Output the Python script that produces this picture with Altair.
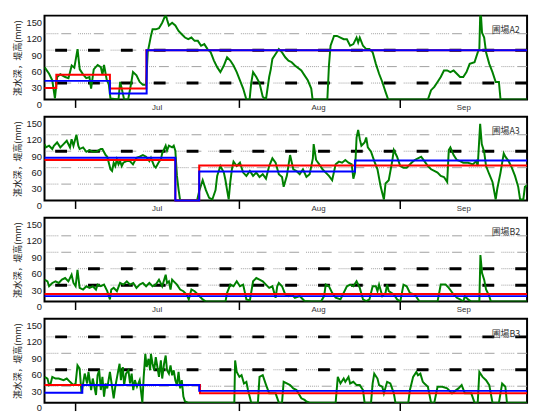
import altair as alt
import pandas as pd

# ---------------- data ----------------
X_DOMAIN = [0, 90]          # days from left edge of plot
Y_DOMAIN = [0, 153]
y_ticks = [0, 30, 60, 90, 120, 150]
grid_levels = [30, 60, 90, 120]
tick_days = [5.7, 36.2, 66.2]
month_days = [21.0, 51.1, 78.2]
month_labels = ["Jul", "Aug", "Sep"]
y_title = "湛水深，堤高(mm)"

fields = ["圃場A2", "圃場A3", "圃場B2", "圃場B3"]
levee_levels = [[30, 90], [90], [30, 60], [60, 120]]

# water depth (day, mm)
a2_depth = [(0,59),(0.85,47),(1.45,35),(1.94,2),(2.35,41),(2.95,46),(3.86,41),(4.47,39),(5.07,62),(5.56,58),
    (6.16,92),(6.57,55),(7.19,46),(7.79,39),(8.38,41),(8.69,20),(9.18,55),(9.91,63),(10.5,59),(10.81,45),
    (11.1,63),(11.6,36),(12.0,27),(12.3,2),(13.8,0),(14.1,32),(14.4,20),(14.85,0),(15.6,0),(16.2,32),
    (16.5,50),(17.15,44),(17.75,32),(18.35,27),(18.95,27),(19.25,86),(19.85,116),(20.15,128),(20.75,128),(21.35,130),
    (21.95,140),(22.6,155),(22.85,146),(23.2,135),(23.8,140),(24.4,135),(25.0,125),(25.6,119),(26.2,113),(26.8,110),
    (27.4,113),(28.0,107),(28.6,107),(29.2,98),(29.8,101),(30.4,92),(31.0,86),(31.6,71),(32.2,59),(32.8,50),
    (33.45,62),(34.05,77),(34.65,71),(35.25,62),(35.85,50),(36.45,35),(37.05,20),(37.65,0),(38.25,0),(38.55,30),
    (38.9,50),(39.5,41),(40.1,30),(40.7,5),(41.3,0),(41.9,41),(42.2,55),(42.5,74),(43.1,83),(43.7,92),
    (44.3,86),(44.9,77),(45.5,71),(46.1,68),(46.7,62),(47.9,53),(48.5,44),(49.1,35),(49.75,20),(50.0,0),
    (52.75,0),(53.05,62),(53.35,98),(54.0,116),(54.55,116),(55.2,113),(55.8,110),(56.4,110),(57.0,98),(57.6,101),
    (58.2,113),(58.5,104),(58.8,113),(59.4,98),(60.0,92),(60.6,92),(61.2,86),(61.8,65),(62.4,47),(63.0,32),
    (63.6,14),(64.1,0),(71.5,0),(72.1,17),(72.7,23),(73.3,32),(73.9,41),(74.5,53),(75.1,53),(75.7,50),
    (76.3,53),(76.9,47),(77.5,41),(78.1,41),(78.7,50),(79.3,65),(80.2,68),(80.8,86),(81.1,92),(81.3,170),
    (81.6,122),(82.0,113),(82.35,86),(82.95,65),(83.55,50),(84.15,32),(84.75,32),(85.05,0),(90,0)]

a3_depth = [(0,103),(0.25,97),(0.85,100),(1.45,94),(1.75,100),(2.35,106),(2.95,97),(3.55,103),(4.15,109),(4.75,97),
    (5.05,112),(5.4,100),(5.95,120),(6.3,100),(6.55,94),(7.2,97),(7.8,89),(8.4,92),(9.0,89),(9.6,89),
    (10.5,94),(10.8,94),(11.4,83),(11.7,80),(12.3,57),(12.6,54),(12.9,69),(13.2,63),(13.5,75),(13.8,66),
    (14.1,72),(14.4,63),(14.7,69),(15.3,72),(15.9,72),(16.5,66),(17.15,78),(17.75,80),(18.35,83),(18.95,80),
    (19.55,72),(19.85,78),(20.45,63),(20.75,60),(21.25,69),(21.7,75),(21.95,86),(22.6,100),(22.85,91),(23.2,100),
    (23.8,97),(24.1,100),(24.4,91),(24.7,45),(25.0,20),(25.3,0),(28.45,0),(28.9,19),(29.5,37),(30.1,19),
    (30.7,5),(31.3,2),(31.9,19),(32.2,45),(32.8,63),(33.45,51),(33.75,37),(34.05,19),(34.35,2),(34.65,34),
    (34.95,57),(35.25,71),(35.85,63),(36.45,69),(37.05,51),(37.65,45),(38.3,54),(38.9,45),(39.5,51),(40.1,43),
    (40.7,48),(41.3,40),(41.9,63),(42.5,77),(43.1,69),(43.7,48),(44.3,43),(44.6,25),(45.2,45),(45.8,83),
    (46.4,57),(47.0,54),(47.6,48),(48.2,57),(48.85,43),(49.45,48),(50.05,77),(50.2,103),(50.65,74),(51.25,66),
    (51.85,57),(52.45,51),(53.05,45),(53.65,37),(54.3,66),(54.9,71),(55.5,69),(56.1,74),(56.7,69),(57.3,66),
    (57.6,40),(57.9,51),(58.2,115),(58.5,129),(58.8,112),(59.1,100),(59.7,106),(60.0,115),(60.3,97),(60.9,89),
    (61.5,72),(62.1,57),(62.7,25),(63.3,2),(63.6,31),(64.2,37),(64.85,72),(65.15,92),(65.75,80),(66.35,63),
    (66.95,60),(67.55,60),(68.45,69),(69.05,74),(69.65,77),(70.25,80),(70.85,72),(71.5,63),(72.1,57),(72.7,54),
    (73.3,51),(73.9,45),(74.5,43),(75.1,34),(75.4,92),(75.7,97),(76.3,83),(76.9,74),(77.5,72),(78.1,69),
    (79.0,69),(79.9,66),(80.5,72),(80.8,63),(81.25,140),(81.55,103),(82.0,89),(82.35,63),(82.95,48),(83.55,34),
    (84.15,2),(84.45,22),(85.05,51),(85.65,86),(85.95,80),(86.55,72),(87.15,60),(87.75,45),(88.35,25),(88.7,2),
    (89.3,2),(89.6,25),(90,28)]

b2_depth = [(0,40),(0.55,37),(0.85,28),(1.45,34),(2.05,37),(2.65,34),(3.25,40),(3.85,43),(4.45,37),(5.05,49),
    (5.4,34),(5.8,28),(6.15,58),(6.55,25),(7.2,22),(7.8,28),(8.4,25),(9.0,28),(9.6,22),(9.9,31),
    (10.5,28),(11.1,31),(11.7,19),(12.2,4),(12.45,22),(12.9,25),(13.5,19),(14.1,34),(14.7,31),(15.35,37),
    (15.95,31),(16.55,34),(17.15,25),(17.75,31),(18.35,34),(18.95,28),(19.55,34),(20.15,28),(20.75,31),(21.35,40),
    (21.95,28),(22.6,49),(22.85,34),(23.2,37),(23.5,22),(23.8,40),(24.1,37),(24.7,31),(25.3,22),(25.9,19),
    (26.5,13),(26.9,4),(27.4,22),(28.0,19),(28.6,13),(29.5,4),(30.1,0),(33.75,0),(34.05,16),(34.65,31),
    (35.25,28),(35.85,37),(36.45,28),(37.05,31),(37.65,4),(38.3,2),(38.9,37),(39.5,43),(40.1,40),(40.7,37),
    (41.3,31),(41.9,25),(42.5,28),(43.1,7),(43.4,28),(43.7,34),(44.3,28),(44.9,13),(45.5,10),(46.1,13),
    (46.7,7),(47.6,10),(47.9,7),(48.5,1),(49.75,0),(51.55,0),(52.15,10),(52.45,31),(53.05,28),(53.65,16),
    (54.3,7),(55.2,4),(56.4,28),(57.0,31),(57.6,28),(58.2,37),(58.8,25),(59.4,4),(60.0,1),(60.6,4),
    (61.2,28),(61.8,28),(62.1,19),(62.4,31),(63.0,10),(63.6,16),(63.9,31),(64.2,19),(65.15,13),(65.75,4),
    (66.35,0),(66.95,31),(67.55,28),(68.15,16),(69.05,13),(69.95,0),(73.3,0),(73.9,31),(74.8,31),(75.4,25),
    (76.3,13),(76.9,7),(77.5,4),(78.1,0),(78.4,10),(79.0,4),(79.6,0),(81.1,0),(81.3,85),(81.6,52),
    (82.0,40),(82.35,22),(82.95,10),(83.25,0),(90,0)]

b3_depth = [(0,47),(0.55,44),(0.85,32),(1.15,35),(1.45,47),(2.05,44),(2.65,44),(3.55,41),(4.15,44),(4.75,38),
    (5.4,32),(5.8,35),(6.15,68),(6.55,62),(6.9,17),(7.2,35),(7.5,53),(7.95,35),(8.2,56),(8.7,23),
    (9.0,44),(9.6,14),(9.9,50),(10.2,59),(10.5,23),(10.8,47),(11.1,11),(11.4,35),(11.7,26),(12.2,56),
    (12.6,29),(12.9,8),(13.2,29),(13.65,53),(14.0,71),(14.25,41),(14.6,65),(14.85,32),(15.2,53),(15.65,59),
    (15.95,35),(16.25,53),(16.55,23),(16.85,41),(17.25,29),(17.75,41),(18.25,0),(18.5,47),(18.8,89),(19.05,65),
    (19.4,80),(19.7,59),(19.85,89),(20.15,71),(20.45,59),(20.75,83),(21.05,65),(21.35,47),(21.7,77),(21.95,44),
    (22.3,71),(22.6,86),(22.85,59),(23.2,53),(23.5,68),(23.8,50),(24.1,59),(24.4,41),(24.7,32),(25.0,56),
    (25.3,26),(25.6,41),(25.9,11),(26.2,2),(26.8,0),(35.4,0),(35.55,77),(35.85,56),(36.35,47),(36.75,50),
    (37.2,35),(37.65,38),(37.95,23),(38.55,0),(39.8,0),(40.1,47),(40.7,50),(41.3,33),(41.9,17),(43.1,17),
    (43.7,0),(44.3,0),(44.6,38),(45.2,35),(45.8,32),(46.4,26),(47.0,23),(47.9,8),(48.5,5),(48.85,2),
    (49.45,0),(54.3,0),(54.7,47),(55.2,35),(55.8,44),(56.1,38),(56.7,47),(57.0,35),(57.6,38),(58.2,32),
    (58.8,32),(59.4,23),(59.7,0),(60.9,0),(61.2,35),(61.5,53),(62.1,44),(62.4,32),(63.0,29),(63.3,17),
    (63.9,38),(64.5,35),(65.15,17),(65.45,0),(67.85,0),(68.15,23),(68.45,35),(68.75,47),(69.35,56),(69.65,50),
    (70.1,53),(70.55,38),(70.85,35),(71.5,29),(72.1,0),(72.7,0),(73.3,29),(74.2,29),(75.1,26),(76.0,17),
    (77.2,26),(77.8,32),(78.4,17),(79.6,17),(80.2,0),(80.8,0),(81.1,56),(81.7,47),(82.35,41),(82.95,32),
    (83.55,0),(84.75,0),(85.35,35),(85.95,29),(86.25,0),(90,0)]

# step lines (start day, mm) -- red and blue
a2_red = [(0,21),(2.2,45),(12.2,20),(19.0,90),(90,90)]
a2_blue = [(0,34),(12.2,11),(19.05,90),(90,90)]
a3_red = [(0,74),(24.4,0),(28.85,64),(90,64)]
a3_blue = [(0,78),(24.4,0),(28.85,53),(57.9,73),(90,73)]
b2_red = [(0,14),(90,14)]
b2_blue = [(0,10),(90,10)]
b3_red = [(0,32),(29.0,17),(90,17)]
b3_blue = [(0,18),(7.05,32),(28.85,21.5),(90,21.5)]

depths = [a2_depth, a3_depth, b2_depth, b3_depth]
reds = [a2_red, a3_red, b2_red, b3_red]
blues = [a2_blue, a3_blue, b2_blue, b3_blue]

# ---------------- chart ----------------
W, H = 489, 85
CJK = "Noto Sans CJK JP"
LAT = "Liberation Sans"

XS = alt.Scale(domain=X_DOMAIN, nice=False, zero=False)
YS = alt.Scale(domain=Y_DOMAIN, nice=False, zero=False)
XAXIS = alt.Axis(values=tick_days, labels=False, ticks=True, tickSize=8, tickWidth=1.5,
                 tickColor="black", domain=False, grid=False, title=None)
YAXIS = alt.Axis(values=y_ticks, grid=False, ticks=False, domain=False,
                 labelOffset=5, labelPadding=3, labelFontSize=9.5, labelFont=LAT,
                 labelColor="#222222", title=y_title, titleFont=CJK, titleFontSize=9,
                 titleFontWeight="normal", titleColor="#222222", titlePadding=3)


def xe():
    return alt.X("day:Q", scale=XS, axis=XAXIS, title=None)


def ye():
    return alt.Y("v:Q", scale=YS, axis=YAXIS, title=y_title)


def panel(name, depth, red, blue, levees, show_months=True):
    grid = alt.Chart(pd.DataFrame({"v": grid_levels})).mark_rule(
        color="#a0a0a0", strokeWidth=1,
        strokeDash=[10, 3, 1, 1, 1, 1, 1, 1, 1, 1, 1, 1, 1, 1, 1, 7]
    ).encode(y=ye())

    lev = alt.Chart(pd.DataFrame({"v": levees})).mark_rule(
        color="black", strokeWidth=3, strokeDash=[12, 21.3]
    ).encode(y=ye())

    g = pd.DataFrame(depth, columns=["day", "v"])
    green = alt.Chart(g).mark_line(color="#008000", strokeWidth=2, clip=True).encode(x=xe(), y=ye())

    r = pd.DataFrame(red, columns=["day", "v"])
    red_l = alt.Chart(r).mark_line(color="#ff0000", strokeWidth=2, interpolate="step-after").encode(
        x=xe(), y=ye())
    b = pd.DataFrame(blue, columns=["day", "v"])
    blue_l = alt.Chart(b).mark_line(color="#0000ff", strokeWidth=2, interpolate="step-after").encode(
        x=xe(), y=ye())

    lab = alt.Chart(pd.DataFrame({"day": [83.4], "v": [126], "t": [name]})).mark_text(
        align="left", baseline="middle", font=CJK, fontSize=9, color="#333333"
    ).encode(x=xe(), y=ye(), text="t:N")

    layers = [grid, lev, green, red_l, blue_l, lab]
    if show_months:
        months = alt.Chart(pd.DataFrame({"day": month_days, "t": month_labels})).mark_text(
            align="center", baseline="middle", font=LAT, fontSize=8, color="#333333"
        ).encode(x=xe(), y=alt.value(H + 9), text="t:N")
        layers.append(months)

    return alt.layer(*layers).properties(width=W, height=H)


panels = [panel(fields[i], depths[i], reds[i], blues[i], levee_levels[i], show_months=(i < 3))
          for i in range(4)]

chart = alt.vconcat(*panels, spacing=17.4, bounds="flush").properties(
    padding={"left": 5, "top": 4, "right": 0, "bottom": 0}
).configure_view(stroke="black", strokeWidth=2)

chart.save("out.html", embed_options={"renderer": "svg", "actions": False})
